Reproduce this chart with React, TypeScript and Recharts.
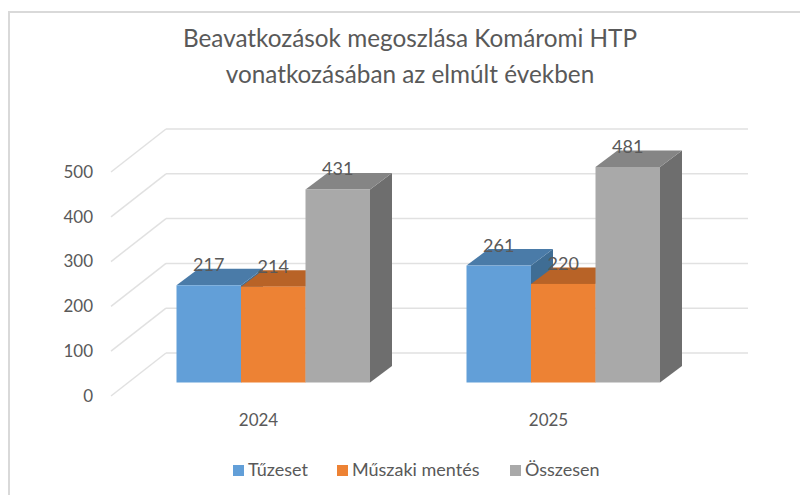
import React from 'react';
import { BarChart, Bar, XAxis, YAxis, CartesianGrid, Legend, LabelList } from 'recharts';

const years = ['2024', '2025'];
const tuzeset = [217, 261];
const muszaki = [214, 220];
const osszesen = [431, 481];
const yTicks = [0, 100, 200, 300, 400, 500];
const titleLines = ['Beavatkozások megoszlása Komáromi HTP', 'vonatkozásában az elmúlt években'];

const data = years.map((year, i) => ({
  year,
  tuzeset: tuzeset[i],
  muszaki: muszaki[i],
  osszesen: osszesen[i],
}));

const FONT = 'Lato, sans-serif';
const TEXT = '#595959';
const GRID = '#e1e1e1';
const DEPTH_X = 22;
const DEPTH_Y = 16.5;

// fake 3D box: side and top first, front face last
const box3d = (top: string, side: string) => (props: any) => {
  const { x, y, width, height, fill } = props;
  const r = x + width;
  const b = y + height;
  return (
    <g>
      <polygon points={`${r},${y} ${r + DEPTH_X},${y - DEPTH_Y} ${r + DEPTH_X},${b - DEPTH_Y} ${r},${b}`} fill={side} />
      <polygon points={`${x},${y} ${x + DEPTH_X},${y - DEPTH_Y} ${r + DEPTH_X},${y - DEPTH_Y} ${r},${y}`} fill={top} />
      <rect x={x} y={y} width={width} height={height} fill={fill} />
    </g>
  );
};

// back wall line plus the diagonal running towards the viewer
const gridLine = (props: any) => {
  const { x1, x2, y1, key } = props;
  const backY = y1 - 29.5;
  return (
    <g key={key}>
      <line x1={x1 - 17.5} y1={y1 + 13.5} x2={x1 + 37.5} y2={backY} stroke={GRID} strokeWidth={1.5} />
      <line x1={x1 + 37.5} y1={backY} x2={x2 + 39.5} y2={backY} stroke={GRID} strokeWidth={1.5} />
    </g>
  );
};

const YTick = (props: any) => (
  <text x={93} y={props.y + 15} textAnchor="end" dominantBaseline="middle" fontSize={17} fontFamily={FONT} fill={TEXT}>
    {props.payload.value}
  </text>
);

const XTick = (props: any) => (
  <text x={props.x - 15} y={422} textAnchor="middle" dominantBaseline="middle" fontSize={17} fontFamily={FONT} fill={TEXT}>
    {props.payload.value}
  </text>
);

const legendItems = [
  { name: 'Tűzeset', color: '#629fd8', left: 233 },
  { name: 'Műszaki mentés', color: '#ed8234', left: 337 },
  { name: 'Összesen', color: '#a9a9a9', left: 510 },
];

const LegendContent = () => (
  <div style={{ position: 'relative', height: 24, fontFamily: FONT, fontSize: 18, color: TEXT }}>
    {legendItems.map((item) => (
      <div key={item.name} style={{ position: 'absolute', left: item.left, top: 0, whiteSpace: 'nowrap', lineHeight: '24px' }}>
        <span style={{ display: 'inline-block', width: 11, height: 11, background: item.color, marginRight: 4 }} />
        {item.name}
      </div>
    ))}
  </div>
);

export default function App() {
  return (
    <div style={{ position: 'absolute', left: 0, top: 0, width: 800, height: 495, background: '#fff', overflow: 'hidden' }}>
      <div style={{ position: 'absolute', left: 8, top: 11, right: 0, height: 2, background: '#d9d9d9' }} />
      <div style={{ position: 'absolute', left: 8, top: 11, bottom: 0, width: 2, background: '#d9d9d9' }} />
      <div style={{ position: 'absolute', left: 0, top: 0 }}>
        <BarChart
          width={800}
          height={495}
          data={data}
          barGap={0}
          barSize={64.5}
          margin={{ top: 158.5, right: 91.5, bottom: 82.5, left: 68.5 }}
        >
          <CartesianGrid vertical={false} horizontal={gridLine} />
          <XAxis dataKey="year" axisLine={false} tickLine={false} tick={XTick} height={30} />
          <YAxis domain={[0, 500]} ticks={yTicks} axisLine={false} tickLine={false} tick={YTick} width={60} />
          <Legend
            layout="horizontal"
            verticalAlign="middle"
            align="center"
            wrapperStyle={{ top: 457, left: 0, width: 800 }}
            content={LegendContent}
          />
          <Bar dataKey="tuzeset" name="Tűzeset" fill="#629fd8" isAnimationActive={false} shape={box3d('#4a7ba8', '#3f6d94')}>
            <LabelList dataKey="tuzeset" position="top" offset={14} fontSize={18} fontFamily={FONT} fill={TEXT} />
          </Bar>
          <Bar dataKey="muszaki" name="Műszaki mentés" fill="#ed8234" isAnimationActive={false} shape={box3d('#b86327', '#a85a23')}>
            <LabelList dataKey="muszaki" position="top" offset={14} fontSize={18} fontFamily={FONT} fill={TEXT} />
          </Bar>
          <Bar dataKey="osszesen" name="Összesen" fill="#a9a9a9" isAnimationActive={false} shape={box3d('#858585', '#6e6e6e')}>
            <LabelList dataKey="osszesen" position="top" offset={14} fontSize={18} fontFamily={FONT} fill={TEXT} />
          </Bar>
          {titleLines.map((line, i) => (
            <text key={line} x={410} y={41 + i * 36} textAnchor="middle" dominantBaseline="middle" fontSize={24.3} fontFamily={FONT} fill={TEXT}>
              {line}
            </text>
          ))}
        </BarChart>
      </div>
    </div>
  );
}
